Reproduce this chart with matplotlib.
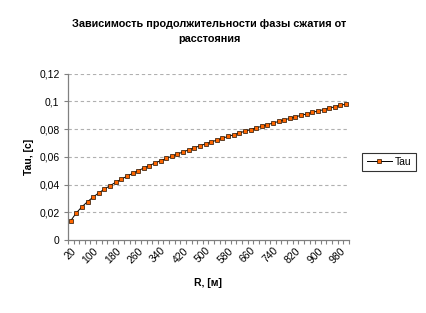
import numpy as np
import matplotlib.pyplot as plt

plt.rcParams['font.family'] = ['Liberation Sans', 'DejaVu Sans']

# distance R, m
r_vals = list(range(20, 1001, 20))
# Tau, s
tau = [0.0139, 0.0196, 0.0240, 0.0277, 0.0310, 0.0340, 0.0367, 0.0392, 0.0416, 0.0438,
       0.0460, 0.0480, 0.0500, 0.0519, 0.0537, 0.0555, 0.0572, 0.0588, 0.0604, 0.0620,
       0.0635, 0.0650, 0.0665, 0.0679, 0.0693, 0.0707, 0.0720, 0.0734, 0.0747, 0.0759,
       0.0772, 0.0784, 0.0796, 0.0808, 0.0820, 0.0832, 0.0843, 0.0855, 0.0866, 0.0877,
       0.0888, 0.0899, 0.0909, 0.0920, 0.0930, 0.0940, 0.0950, 0.0961, 0.0971, 0.0980]
y_ticks = [0, 0.02, 0.04, 0.06, 0.08, 0.1, 0.12]
y_labels = ['0', '0,02', '0,04', '0,06', '0,08', '0,1', '0,12']

fig = plt.figure(figsize=(4.27, 3.13), dpi=100)
ax = fig.add_axes([0.159, 0.233, 0.658, 0.532])

n = len(r_vals)
xpos = np.arange(n) + 0.5
ax.plot(xpos, tau, color='black', lw=0.7, marker='s', ms=2.2,
        mfc='#FF6600', mec='#221100', mew=0.5, label='Tau', zorder=3)

ax.set_xlim(0, n)
ax.set_ylim(0, 0.12)

# category axis: tick marks at category borders, labels every 4th category
ax.set_xticks(np.arange(n + 1), minor=True)
ax.set_xticks(xpos[::4])
ax.set_xticklabels([str(v) for v in r_vals[::4]], rotation=45, ha='right',
                   rotation_mode='anchor', fontsize=7.5)
ax.tick_params(axis='x', which='major', length=0, pad=4)
ax.tick_params(axis='x', which='minor', length=3, color='#808080', width=0.8)

ax.set_yticks(y_ticks)
ax.set_yticklabels(y_labels, fontsize=7.5)
ax.tick_params(axis='y', length=3, color='#808080', width=0.8, pad=3)

for v in y_ticks[1:]:
    ax.axhline(v, color='#b0b0b0', lw=0.8, ls=(0, (3, 2.5)), zorder=1)

for s in ['top', 'right']:
    ax.spines[s].set_visible(False)
for s in ['left', 'bottom']:
    ax.spines[s].set_color('#808080')
    ax.spines[s].set_linewidth(0.9)

fig.text(0.49, 0.9, 'Зависимость продолжительности фазы сжатия от\nрасстояния',
         ha='center', va='center', fontsize=7.8, fontweight='bold', linespacing=1.6)
ax.set_ylabel('Tau, [c]', fontsize=7.5, fontweight='bold', labelpad=4)
fig.text(0.487, 0.095, 'R, [м]', ha='center', va='center', fontsize=7.5, fontweight='bold')

leg = ax.legend(loc='center left', bbox_to_anchor=(1.03, 0.47), fontsize=7.5,
                frameon=True, fancybox=False, edgecolor='black', handlelength=2.4,
                borderpad=0.4, handletextpad=0.3)
leg.get_frame().set_linewidth(0.8)

fig.savefig('out.png', dpi=100)
